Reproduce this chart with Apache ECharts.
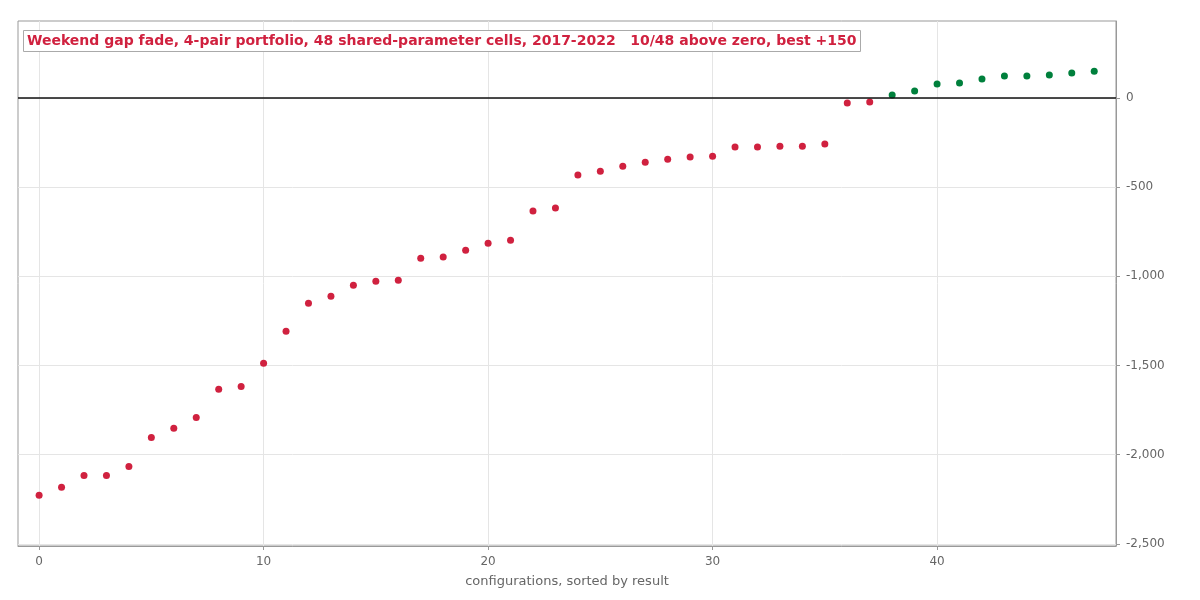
<!DOCTYPE html>
<html>
<head>
<meta charset="utf-8">
<script src="https://cdn.jsdelivr.net/npm/echarts@6/dist/echarts.min.js"></script>
<style>
  html, body { margin: 0; padding: 0; background: #fff; }
  #main { width: 1200px; height: 600px; }
</style>
</head>
<body>
<div id="main"></div>
<script>
// results per configuration, already sorted ascending
const results = [
  -2228, -2183, -2116, -2116, -2066, -1903, -1852, -1791, -1633, -1617,
  -1487, -1308, -1151, -1111, -1050, -1027, -1022, -898, -892, -853,
  -814, -797, -634, -617, -432, -410, -382, -360, -343, -331,
  -326, -275, -275, -270, -270, -258, -28, -22, 17, 39,
  79, 84, 107, 124, 124, 129, 140, 150
];
const xTicks = [0, 10, 20, 30, 40];
const yTicks = [-2500, -2000, -1500, -1000, -500, 0];
const titleText = 'Weekend gap fade, 4-pair portfolio, 48 shared-parameter cells, 2017-2022   10/48 above zero, best +150';

const RED = '#d0213f';
const GREEN = '#00803c';

// split into losers / winners
let neg = [];
let pos = [];
results.forEach((v, i) => {
  if (v > 0) pos.push([i, v]);
  else neg.push([i, v]);
});

const chart = echarts.init(document.getElementById('main'));

const option = {
  animation: false,
  textStyle: { fontFamily: 'DejaVu Sans' },
  title: {
    text: titleText,
    left: 23,
    top: 30,
    padding: [4, 4, 4, 4],
    borderColor: '#aaaaaa',
    borderWidth: 1,
    backgroundColor: '#ffffff',
    textStyle: {
      color: RED,
      fontSize: 14,
      fontWeight: 'bold',
      fontFamily: 'DejaVu Sans'
    }
  },
  grid: {
    left: 18,
    right: 84,
    top: 21,
    bottom: 54,
    show: true,
    borderColor: '#999999',
    borderWidth: 1,
    backgroundColor: 'transparent'
  },
  xAxis: {
    type: 'value',
    min: -0.94,
    max: 47.97,
    name: 'configurations, sorted by result',
    nameLocation: 'middle',
    nameGap: 29,
    nameTextStyle: { color: '#666666', fontSize: 13 },
    axisLine: { show: true, onZero: false, lineStyle: { color: '#999999' } },
    axisTick: {
      show: true,
      length: 4,
      customValues: xTicks,
      lineStyle: { color: '#999999' }
    },
    axisLabel: {
      color: '#666666',
      fontSize: 12,
      margin: 10,
      customValues: xTicks
    },
    splitLine: { show: true, lineStyle: { color: '#e5e5e5', width: 1 } }
  },
  yAxis: {
    type: 'value',
    position: 'right',
    min: -2512,
    max: 432,
    axisLine: { show: true, onZero: false, lineStyle: { color: '#999999' } },
    axisTick: {
      show: true,
      length: 4,
      customValues: yTicks,
      lineStyle: { color: '#999999' }
    },
    axisLabel: {
      color: '#666666',
      fontSize: 12,
      margin: 10,
      customValues: yTicks,
      formatter: function (v) {
        return v.toLocaleString('en-US');
      }
    },
    splitLine: { show: true, lineStyle: { color: '#e5e5e5', width: 1 } }
  },
  series: [
    {
      name: 'below zero',
      type: 'scatter',
      symbolSize: 7,
      itemStyle: { color: RED, opacity: 1 },
      data: neg,
      markLine: {
        silent: true,
        symbol: 'none',
        label: { show: false },
        lineStyle: { color: '#111111', width: 1.5, type: 'solid' },
        data: [{ yAxis: 0 }]
      },
      z: 3
    },
    {
      name: 'above zero',
      type: 'scatter',
      symbolSize: 7,
      itemStyle: { color: GREEN, opacity: 1 },
      data: pos,
      z: 3
    }
  ]
};

chart.setOption(option);
</script>
</body>
</html>
